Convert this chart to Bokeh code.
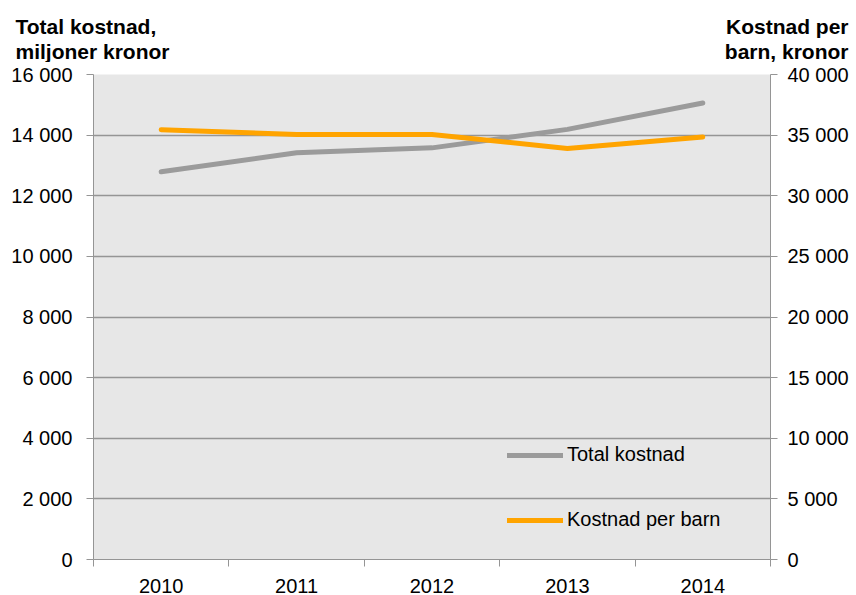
from bokeh.plotting import figure
from bokeh.layouts import column, row
from bokeh.models import (Range1d, LinearAxis, FixedTicker, Legend, LegendItem)
from bokeh.core.properties import value
from bokeh.embed import file_html
from bokeh.resources import INLINE

years = ["2010", "2011", "2012", "2013", "2014"]
total_kostnad = [12790, 13420, 13580, 14190, 15060]
kostnad_per_barn = [35450, 35050, 35050, 33900, 34850]
left_ticks = [0, 2000, 4000, 6000, 8000, 10000, 12000, 14000, 16000]
left_labels = ["0", "2 000", "4 000", "6 000", "8 000", "10 000", "12 000", "14 000", "16 000"]
right_ticks = [0, 5000, 10000, 15000, 20000, 25000, 30000, 35000, 40000]
right_labels = ["0", "5 000", "10 000", "15 000", "20 000", "25 000", "30 000", "35 000", "40 000"]
left_title = "Total kostnad,\nmiljoner kronor"
right_title = "Kostnad per\nbarn, kronor"

FONT = "Liberation Sans"
FS = "20px"
GRID = "#959595"
W, H = 856, 595
HEAD = 62
xs = [i + 0.5 for i in range(len(years))]

# header strip with the two axis titles
ph = figure(width=W, height=HEAD, output_backend="svg", toolbar_location=None,
            x_range=Range1d(0, W), y_range=Range1d(0, HEAD),
            min_border=0, x_axis_type=None, y_axis_type=None)
ph.outline_line_color = None
ph.grid.grid_line_color = None
ph.background_fill_color = "white"
ph.text(x=[15], y=[HEAD - 14], text=[left_title], text_font=value(FONT), text_font_size="21px",
        text_font_style="bold", text_color="black", text_baseline="top", text_align="left",
        text_line_height=1.12)
ph.text(x=[848], y=[HEAD - 14], text=[right_title], text_font=value(FONT), text_font_size="21px",
        text_font_style="bold", text_color="black", text_baseline="top", text_align="right",
        text_line_height=1.12)

p = figure(width=W, height=H - HEAD, output_backend="svg", toolbar_location=None,
           x_range=Range1d(0, len(years)), y_range=Range1d(0, 16000),
           min_border_left=93, min_border_right=W - 770, min_border_top=74 - HEAD,
           min_border_bottom=H - 560)
p.background_fill_color = "#E7E7E7"
p.border_fill_color = "white"
p.outline_line_color = None
p.extra_y_ranges = {"right": Range1d(0, 40000)}

# x axis
p.xaxis.ticker = FixedTicker(ticks=xs, minor_ticks=list(range(len(years) + 1)))
p.xaxis.major_label_overrides = {x: y for x, y in zip(xs, years)}
p.xaxis.major_tick_out = 0
p.xaxis.major_tick_in = 0
p.xaxis.minor_tick_out = 7
p.xaxis.minor_tick_in = 0
p.xaxis.minor_tick_line_color = GRID
p.xaxis.axis_line_color = GRID
p.xaxis.major_label_text_font = FONT
p.xaxis.major_label_text_font_size = FS
p.xaxis.major_label_text_color = "black"
p.xaxis.major_label_standoff = 12
p.xgrid.grid_line_color = None

# left y axis
p.yaxis.ticker = FixedTicker(ticks=left_ticks, minor_ticks=[])
p.yaxis.major_label_overrides = {t: l for t, l in zip(left_ticks, left_labels)}
p.yaxis.major_tick_out = 7
p.yaxis.major_tick_in = 0
p.yaxis.major_tick_line_color = GRID
p.yaxis.axis_line_color = GRID
p.yaxis.major_label_text_font = FONT
p.yaxis.major_label_text_font_size = FS
p.yaxis.major_label_text_color = "black"
p.yaxis.major_label_standoff = 14
p.ygrid.grid_line_color = GRID
p.ygrid.grid_line_width = 1.5

# right y axis
ra = LinearAxis(y_range_name="right")
ra.ticker = FixedTicker(ticks=right_ticks, minor_ticks=[])
ra.major_label_overrides = {t: l for t, l in zip(right_ticks, right_labels)}
ra.major_tick_out = 7
ra.major_tick_in = 0
ra.major_tick_line_color = GRID
ra.axis_line_color = GRID
ra.major_label_text_font = FONT
ra.major_label_text_font_size = FS
ra.major_label_text_color = "black"
ra.major_label_standoff = 10
p.add_layout(ra, "right")

r1 = p.line(xs, total_kostnad, line_color="#9B9B9B", line_width=5, line_cap="round", line_join="round")
r2 = p.line(xs, kostnad_per_barn, y_range_name="right", line_color="#FFA400", line_width=5,
            line_cap="round", line_join="round")

legend = Legend(items=[LegendItem(label="Total kostnad", renderers=[r1]),
                       LegendItem(label="Kostnad per barn", renderers=[r2])],
                location=(414, 28), orientation="vertical")
legend.background_fill_alpha = 0
legend.border_line_color = None
legend.padding = 0
legend.margin = 0
legend.glyph_width = 56
legend.glyph_height = 20
legend.label_height = 20
legend.spacing = 42
legend.label_standoff = 4
legend.label_text_font = FONT
legend.label_text_font_size = FS
legend.label_text_color = "black"
p.add_layout(legend, "center")

layout = column(row(ph, spacing=0), p, spacing=0)
open("out.html", "w").write(file_html(layout, INLINE))
